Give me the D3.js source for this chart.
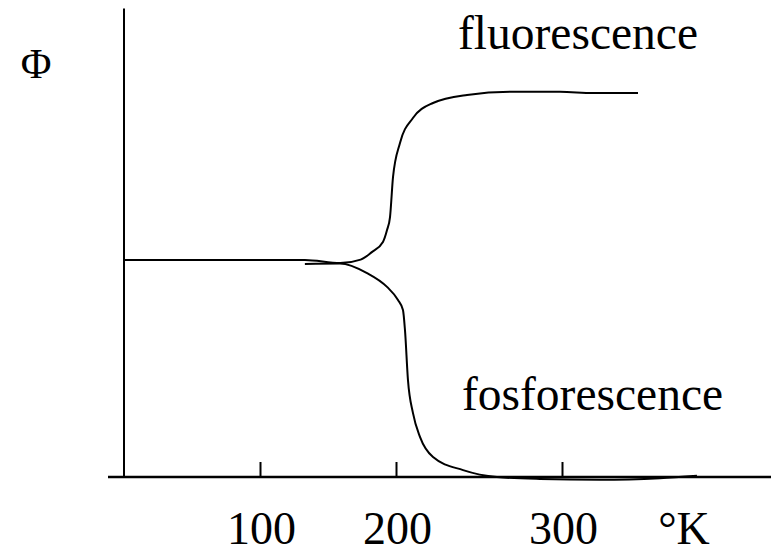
<!DOCTYPE html>
<html>
<head>
<meta charset="utf-8">
<script src="https://cdn.jsdelivr.net/npm/d3@7"></script>
<style>
  html, body { margin: 0; padding: 0; background: #fff; }
  svg text { font-family: "Liberation Serif", "Tinos", "DejaVu Serif", "Times New Roman", serif; fill: #000; }
</style>
</head>
<body>
<svg id="chart" width="771" height="554"></svg>
<script>
// ---- data ----
const tickValues = [100, 200, 300];
const tickLabels = ["100", "200", "300"];
const xUnitLabel = "°K";
const yLabel = "Φ";

// temperature (K) and relative quantum yield for fluorescence
const fluorT   = [0, 133, 159, 174, 182, 190.4, 193.4, 195.6, 197.8, 202.4, 210.2, 222.3, 242.8, 268.7, 298.8, 318.7, 345.8];
const fluorPhi = [0.565, 0.565, 0.557, 0.566, 0.585, 0.612, 0.643, 0.677, 0.781, 0.870, 0.935, 0.974, 0.995, 1.003, 1.003, 1.0, 1.0];

// phosphorescence
const phosT   = [133, 158.8, 178.7, 193.4, 201.2, 204.2, 205.4, 207.2, 210.2, 214.5, 222.3, 240.4, 260.8, 286.7, 322.9, 359, 381.3];
const phosPhi = [0.555, 0.556, 0.531, 0.495, 0.461, 0.435, 0.383, 0.253, 0.167, 0.104, 0.052, 0.018, 0.0, -0.005, -0.007, -0.003, 0.003];

const seriesNames = ["fluorescence", "fosforescence"];

// ---- layout ----
const svg = d3.select("#chart");
const x = d3.scaleLinear().domain([0, 100, 200, 300]).range([124, 260, 396, 562]);
const y = d3.scaleLinear().domain([0, 1]).range([477, 93]);

// y axis line
svg.append("line")
  .attr("x1", x(0)).attr("x2", x(0))
  .attr("y1", y(0)).attr("y2", y(1.22))
  .attr("stroke", "#000").attr("stroke-width", 2);

// x axis
const xAxis = d3.axisBottom(x)
  .tickValues(tickValues)
  .tickFormat((d, i) => tickLabels[i])
  .tickSizeInner(-15)
  .tickSizeOuter(0)
  .tickPadding(34);

const gx = svg.append("g").attr("transform", `translate(0,${y(0)})`).call(xAxis);
gx.select(".domain").remove();
gx.selectAll(".tick line").attr("stroke", "#000").attr("stroke-width", 2);
gx.selectAll(".tick text")
  .attr("font-size", 46)
  .attr("dx", 1);

svg.append("line")
  .attr("x1", 108).attr("x2", 771)
  .attr("y1", y(0)).attr("y2", y(0))
  .attr("stroke", "#000").attr("stroke-width", 2.5);

svg.append("text")
  .attr("x", 684).attr("y", 544)
  .attr("text-anchor", "middle")
  .attr("font-size", 46)
  .text(xUnitLabel);

svg.append("text")
  .attr("x", 36).attr("y", 78)
  .attr("text-anchor", "middle")
  .attr("font-size", 42)
  .text(yLabel);

// curves
const line = d3.line()
  .x(d => x(d[0]))
  .y(d => y(d[1]))
  .curve(d3.curveMonotoneX);

const fluor = fluorT.map((t, i) => [t, fluorPhi[i]]);
const phos = phosT.map((t, i) => [t, phosPhi[i]]);

[fluor, phos].forEach(data => {
  svg.append("path")
    .datum(data)
    .attr("d", line)
    .attr("fill", "none")
    .attr("stroke", "#000")
    .attr("stroke-width", 2);
});

// series labels
svg.append("text")
  .attr("x", 458).attr("y", 49)
  .attr("font-size", 47.5)
  .text(seriesNames[0]);

svg.append("text")
  .attr("x", 462).attr("y", 410)
  .attr("font-size", 47.5)
  .text(seriesNames[1]);
</script>
</body>
</html>
